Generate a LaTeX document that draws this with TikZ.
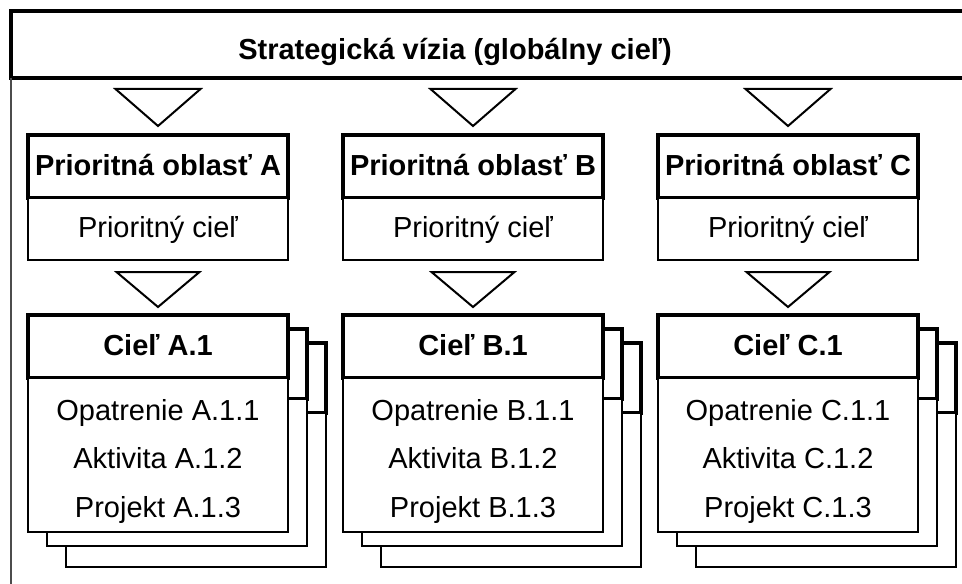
\documentclass[tikz,border=0pt]{standalone}
\usepackage{fontspec}
\setmainfont{Liberation Sans}
\usetikzlibrary{positioning}

\tikzset{
  hlavicka/.style={rectangle,draw=black,fill=white,line width=2pt,minimum width=130pt,minimum height=31.5pt,inner sep=0pt,outer sep=0pt,text centered,text height=11.6pt,text depth=2.9pt,font=\fontsize{14.5}{17}\selectfont\bfseries},
  telo/.style={rectangle,draw=black,fill=white,line width=1pt,minimum width=130pt,minimum height=31pt,inner sep=0pt,outer sep=0pt,text centered,text height=11.6pt,text depth=2.9pt,font=\fontsize{14.5}{17}\selectfont},
  riadok/.style={anchor=base,inner sep=0pt,font=\fontsize{14.5}{17}\selectfont},
  trojuholnik/.style={draw=black,line width=1pt,line join=miter}
}

\begin{document}
\begin{tikzpicture}[x=0.5pt,y=-0.5pt]
\useasboundingbox (0,0) rectangle (962,583);
\clip (0,0) rectangle (962,583);

% strategicka vizia
\node (pas)[rectangle,draw=black,fill=white,line width=2pt,minimum width=500pt,minimum height=33.25pt,outer sep=0pt,anchor=north west] at (11,11.5) {};
\node (vizia)[anchor=base,inner sep=0pt,font=\fontsize{14.5}{17}\selectfont\bfseries] at (455,60) {Strategická vízia (globálny cieľ)};
\draw[line width=0.8pt,black!70] (pas.south west) -- ++(0,600);

\foreach \X/\xx in {A/28,B/343,C/658}{
  % zadne karty
  \node (kartaH3\X)[hlavicka,minimum height=35pt,anchor=north west] at (\xx+38,343) {};
  \node (kartaT3\X)[telo,minimum height=77pt,below=0pt of kartaH3\X] {};
  \node (kartaH2\X)[hlavicka,minimum height=35pt,anchor=north west] at (\xx+19,329) {};
  \node (kartaT2\X)[telo,minimum height=73.5pt,below=0pt of kartaH2\X] {};
  % predna karta
  \node (ciel\X)[hlavicka,anchor=north west] at (\xx,315) {Cieľ \X.1};
  \node (cielTelo\X)[telo,minimum height=77pt,below=0pt of ciel\X] {};
  \foreach \riadok/\posun [count=\i] in {Opatrenie/17.5,Aktivita/-6.5,Projekt/-31}
    \node (riadok\X\i)[riadok] at ([yshift=\posun pt]cielTelo\X.center) {\riadok\ \X.1.\i};
  % prioritna oblast
  \node (oblast\X)[hlavicka,anchor=north west] at (\xx,135) {Prioritná oblasť \X};
  \node (cielP\X)[telo,below=0pt of oblast\X] {Prioritný cieľ};
  % trojuholniky
  \draw[trojuholnik] ([xshift=-21.25pt,yshift=23pt]oblast\X.north) -- ([xshift=21.25pt,yshift=23pt]oblast\X.north) -- ([yshift=4.5pt]oblast\X.north) -- cycle;
  \draw[trojuholnik] ([xshift=-20.75pt,yshift=21.5pt]ciel\X.north) -- ([xshift=20.75pt,yshift=21.5pt]ciel\X.north) -- ([yshift=4pt]ciel\X.north) -- cycle;
}
\end{tikzpicture}
\end{document}
